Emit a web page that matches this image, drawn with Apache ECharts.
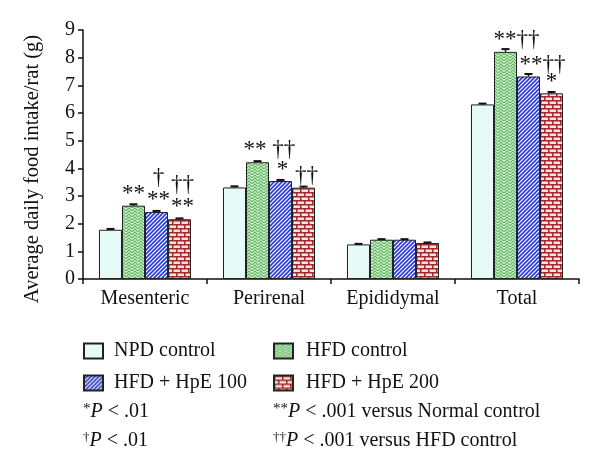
<!DOCTYPE html>
<html>
<head>
<meta charset="utf-8">
<script src="https://cdn.jsdelivr.net/npm/echarts@6/dist/echarts.min.js"></script>
<style>
  html, body { margin: 0; padding: 0; background: #fff; }
  #main { width: 600px; height: 472px; }
</style>
</head>
<body>
<div id="main"></div>
<script>
// data
var categories = ['Mesenteric', 'Perirenal', 'Epididymal', 'Total'];
var seriesNames = ['NPD control', 'HFD control', 'HFD + HpE 100', 'HFD + HpE 200'];
var npd = [1.78, 3.31, 1.25, 6.31];
var hfd = [2.65, 4.22, 1.42, 8.21];
var hpe100 = [2.42, 3.54, 1.42, 7.32];
var hpe200 = [2.16, 3.30, 1.30, 6.71];
var npdErr = [0.03, 0.04, 0.02, 0.03];
var hfdErr = [0.05, 0.04, 0.02, 0.10];
var hpe100Err = [0.04, 0.04, 0.02, 0.09];
var hpe200Err = [0.03, 0.04, 0.02, 0.05];
// significance marks above bars
var npdSig = ['', '', '', ''];
var hfdSig = ['**', '** ††', '', '**††'];
var hpe100Sig = ['†\n**', '*', '', '**††'];
var hpe200Sig = ['††\n**', '††', '', '*'];
var yTicks = [0, 1, 2, 3, 4, 5, 6, 7, 8, 9];

var FONT = '"Liberation Serif", "DejaVu Serif", serif';
var GAP = 0.258;

function makePattern(kind) {
  var c = document.createElement('canvas');
  var ctx = c.getContext('2d');
  if (kind === 'green') {
    c.width = 6; c.height = 6;
    ctx.fillStyle = '#ffffff';
    ctx.fillRect(0, 0, 6, 6);
    ctx.strokeStyle = '#5cb85a';
    ctx.lineWidth = 1.4;
    ctx.beginPath();
    ctx.moveTo(0, 4); ctx.lineTo(3, 1); ctx.lineTo(6, 4);
    ctx.moveTo(0, 7); ctx.lineTo(3, 4); ctx.lineTo(6, 7);
    ctx.moveTo(0, 1); ctx.lineTo(3, -2); ctx.lineTo(6, 1);
    ctx.stroke();
  } else if (kind === 'blue') {
    c.width = 4; c.height = 4;
    ctx.fillStyle = '#ffffff';
    ctx.fillRect(0, 0, 4, 4);
    ctx.strokeStyle = '#2a3bc8';
    ctx.lineWidth = 1.6;
    ctx.beginPath();
    ctx.moveTo(-1, 5); ctx.lineTo(5, -1);
    ctx.moveTo(-1, 1); ctx.lineTo(1, -1);
    ctx.moveTo(3, 5); ctx.lineTo(5, 3);
    ctx.stroke();
  } else if (kind === 'brick') {
    c.width = 8; c.height = 8;
    ctx.fillStyle = '#f6e4e4';
    ctx.fillRect(0, 0, 8, 8);
    ctx.fillStyle = '#a3282b';
    ctx.fillRect(0, 0, 8, 1.5);
    ctx.fillRect(0, 4, 8, 1.5);
    ctx.fillRect(0, 0, 1.5, 4);
    ctx.fillRect(4, 4, 1.5, 4);
  }
  return { image: c, repeat: 'repeat' };
}

var fills = ['#e6fbf7', makePattern('green'), makePattern('blue'), makePattern('brick')];
var values = [npd, hfd, hpe100, hpe200];
var errs = [npdErr, hfdErr, hpe100Err, hpe200Err];
var sigs = [npdSig, hfdSig, hpe100Sig, hpe200Sig];

// label tweaks per series / category (style only)
var labelOffsets = [
  [[0, 0], [0, 0], [0, 0], [0, 0]],
  [[0, 3], [12, 3], [0, 0], [11, 3]],
  [[2, 3], [2, 4], [0, 0], [14, 3]],
  [[3, 3], [3, 3], [0, 0], [0, 4]]
];

var chart = echarts.init(document.getElementById('main'));

var series = [];
for (var s = 0; s < 4; s++) {
  (function (s) {
    series.push({
      name: seriesNames[s],
      type: 'bar',
      barGap: 0,
      barCategoryGap: (GAP * 100) + '%',
      itemStyle: { color: fills[s], borderColor: '#222', borderWidth: 1 },
      label: {
        show: true,
        position: 'top',
        distance: 4,
        color: '#111',
        fontFamily: FONT,
        fontSize: 23,
        lineHeight: 22,
        formatter: function (p) {
          return sigs[s][p.dataIndex];
        }
      },
      data: values[s].map(function (v, i) {
        return { value: v, label: { offset: labelOffsets[s][i] } };
      }),
      z: 2
    });
  })(s);
}

var errData = [];
for (var k = 0; k < 4; k++) {
  for (var i = 0; i < categories.length; i++) {
    errData.push([i, k, values[k][i], errs[k][i]]);
  }
}

series.push({
  type: 'custom',
  silent: true,
  z: 5,
  renderItem: function (params, api) {
    var cat = api.value(0);
    var idx = api.value(1);
    var v = api.value(2);
    var e = api.value(3);
    var band = api.size([1, 0])[0];
    var bw = band * (1 - GAP) / 4;
    var c = api.coord([cat, v]);
    var x = c[0] - 2 * bw + (idx + 0.5) * bw;
    var y0 = c[1];
    var y1 = api.coord([cat, v + e])[1];
    return {
      type: 'group',
      children: [
        { type: 'line', shape: { x1: x, y1: y0, x2: x, y2: y1 }, style: { stroke: '#111', lineWidth: 1.5 } },
        { type: 'line', shape: { x1: x - 4, y1: y1, x2: x + 4, y2: y1 }, style: { stroke: '#111', lineWidth: 2 } }
      ]
    };
  },
  data: errData
});

var supRich = function (size) {
  return {
    s: { fontSize: size, verticalAlign: 'top', fontFamily: FONT, fill: '#111' },
    i: { fontStyle: 'italic', fontSize: 20, fontFamily: FONT, fill: '#111' }
  };
};

var option = {
  animation: false,
  textStyle: { fontFamily: FONT },
  grid: { left: 83, right: 21, top: 30, bottom: 193 },
  legend: [
    {
      data: [seriesNames[0], seriesNames[2]],
      orient: 'vertical',
      left: 83, top: 341,
      padding: 0,
      icon: 'rect',
      itemWidth: 19, itemHeight: 15,
      itemGap: 12,
      textStyle: { fontFamily: FONT, fontSize: 20, color: '#111', padding: [0, 0, 0, 6] },
      selectedMode: false
    },
    {
      data: [seriesNames[1], seriesNames[3]],
      orient: 'vertical',
      left: 273, top: 341,
      padding: 0,
      icon: 'rect',
      itemWidth: 19, itemHeight: 15,
      itemGap: 12,
      textStyle: { fontFamily: FONT, fontSize: 20, color: '#111', padding: [0, 0, 0, 8] },
      selectedMode: false
    }
  ],
  xAxis: {
    type: 'category',
    data: categories,
    axisLine: { lineStyle: { color: '#111', width: 1.5 } },
    axisTick: { show: true, length: 5, lineStyle: { color: '#111', width: 1.5 } },
    axisLabel: { color: '#111', fontFamily: FONT, fontSize: 20, margin: 10 }
  },
  yAxis: {
    type: 'value',
    min: yTicks[0],
    max: yTicks[yTicks.length - 1],
    interval: 1,
    axisLine: { show: true, lineStyle: { color: '#111', width: 1.5 } },
    axisTick: { show: true, length: 5, lineStyle: { color: '#111', width: 1.5 } },
    axisLabel: { color: '#111', fontFamily: FONT, fontSize: 20, margin: 8 },
    splitLine: { show: false }
  },
  graphic: [
    {
      type: 'text', x: 33, y: 169, rotation: Math.PI / 2,
      style: {
        text: 'Average daily food intake/rat (g)',
        font: '20.5px ' + FONT, fill: '#111',
        align: 'center', verticalAlign: 'middle'
      }
    },
    {
      type: 'text', left: 83, top: 402,
      style: { text: '{s|*}{i|P} < .01', font: '20px ' + FONT, fill: '#111', rich: supRich(15) }
    },
    {
      type: 'text', left: 273, top: 402,
      style: { text: '{s|**}{i|P} < .001 versus Normal control', font: '20px ' + FONT, fill: '#111', rich: supRich(15) }
    },
    {
      type: 'text', left: 83, top: 431,
      style: { text: '{s|†}{i|P} < .01', font: '20px ' + FONT, fill: '#111', rich: supRich(13) }
    },
    {
      type: 'text', left: 273, top: 431,
      style: { text: '{s|††}{i|P} < .001 versus HFD control', font: '20px ' + FONT, fill: '#111', rich: supRich(13) }
    }
  ],
  series: series
};

chart.setOption(option);
</script>
</body>
</html>
